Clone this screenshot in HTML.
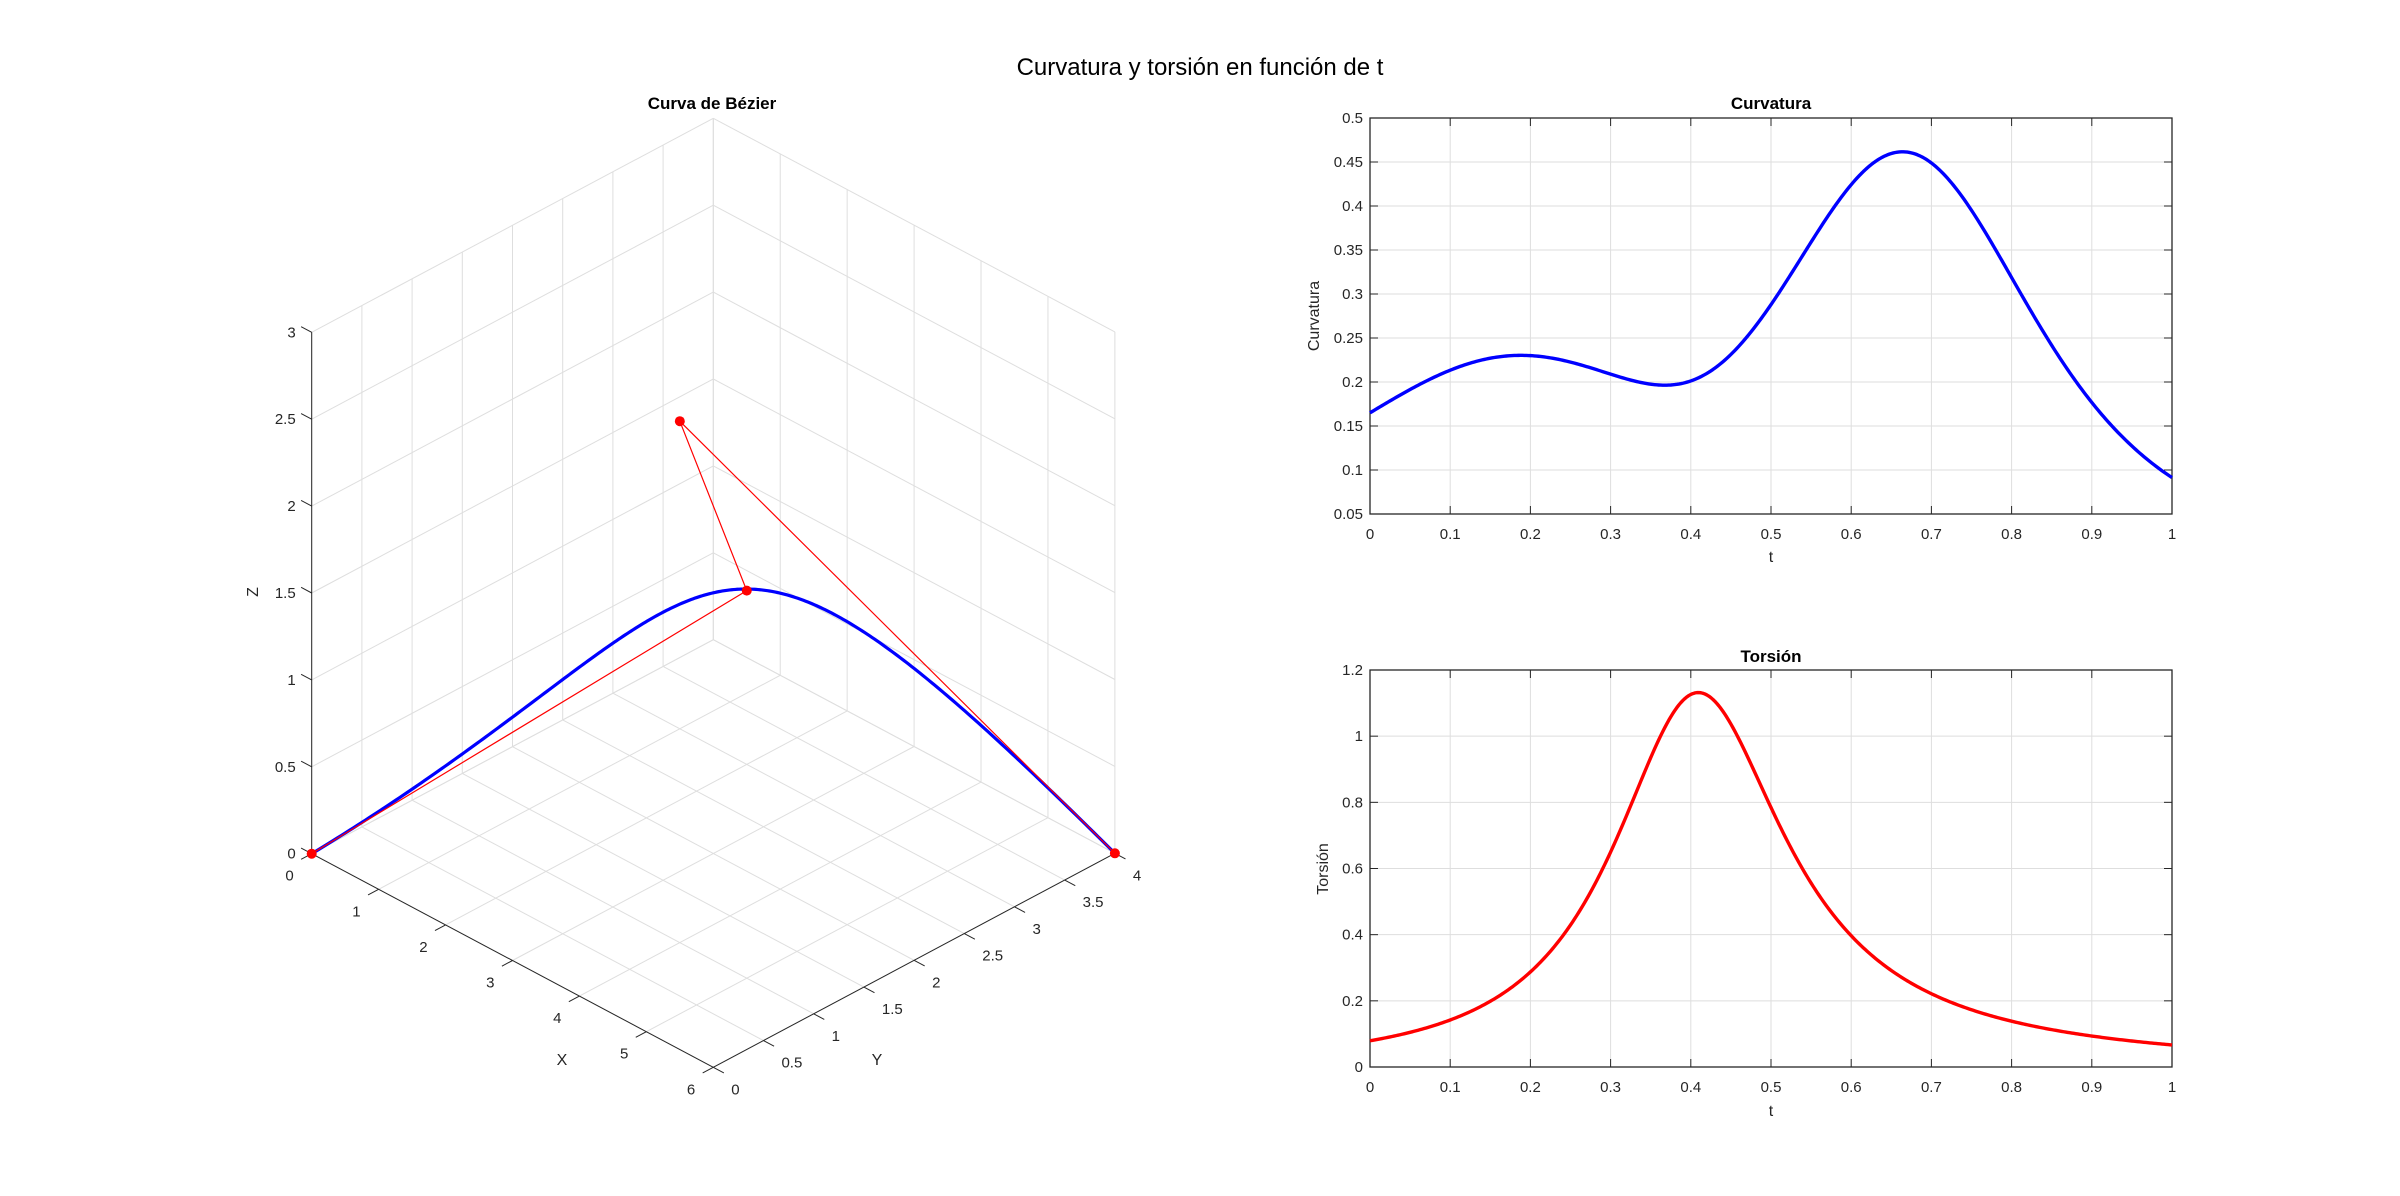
<!DOCTYPE html>
<html><head><meta charset="utf-8">
<style>
html,body{margin:0;padding:0;background:#fff;}
svg{display:block;font-family:"Liberation Sans",Arial,sans-serif;}
</style></head>
<body>
<svg id="s" width="2400" height="1196" viewBox="0 0 2400 1196" xmlns="http://www.w3.org/2000/svg">
<rect width="2400" height="1196" fill="#fff"/>
<text x="1200" y="75" font-size="24" text-anchor="middle" fill="#000">Curvatura y torsión en función de t</text>
<text x="712" y="109" font-size="17" font-weight="bold" text-anchor="middle" fill="#000">Curva de Bézier</text>
<text x="1771" y="109" font-size="17" font-weight="bold" text-anchor="middle" fill="#000">Curvatura</text>
<text x="1771" y="662" font-size="17" font-weight="bold" text-anchor="middle" fill="#000">Torsión</text>
<text x="1771" y="562" font-size="16" text-anchor="middle" fill="#262626">t</text>
<text x="1771" y="1116" font-size="16" text-anchor="middle" fill="#262626">t</text>
<text transform="translate(1319,316) rotate(-90)" font-size="16" text-anchor="middle" fill="#262626">Curvatura</text>
<text transform="translate(1328,869) rotate(-90)" font-size="16" text-anchor="middle" fill="#262626">Torsión</text>
<text x="562" y="1065" font-size="16" text-anchor="middle" fill="#262626">X</text>
<text x="877" y="1065" font-size="16" text-anchor="middle" fill="#262626">Y</text>
<text transform="translate(258,592) rotate(-90)" font-size="16" text-anchor="middle" fill="#262626">Z</text>
<g id="g"></g>
</svg>
<script>
(function(){
var NS="http://www.w3.org/2000/svg",g=document.getElementById('g');
function el(t,a,txt){var e=document.createElementNS(NS,t);for(var k in a)e.setAttribute(k,a[k]);if(txt!=null)e.textContent=txt;g.appendChild(e);return e;}
function line(x1,y1,x2,y2,c,w){el('line',{x1:x1,y1:y1,x2:x2,y2:y2,stroke:c,'stroke-width':w||1});}
var P=[[0,0,0],[2,3,1],[4,1,3],[6,4,0]];
function B(t){var u=1-t,r=[];for(var i=0;i<3;i++)r[i]=u*u*u*P[0][i]+3*u*u*t*P[1][i]+3*u*t*t*P[2][i]+t*t*t*P[3][i];return r;}
function d1(t){var u=1-t,r=[];for(var i=0;i<3;i++)r[i]=3*u*u*(P[1][i]-P[0][i])+6*u*t*(P[2][i]-P[1][i])+3*t*t*(P[3][i]-P[2][i]);return r;}
function d2(t){var u=1-t,r=[];for(var i=0;i<3;i++)r[i]=6*u*(P[2][i]-2*P[1][i]+P[0][i])+6*t*(P[3][i]-2*P[2][i]+P[1][i]);return r;}
function d3(){var r=[];for(var i=0;i<3;i++)r[i]=6*(P[3][i]-3*P[2][i]+3*P[1][i]-P[0][i]);return r;}
function cr(a,b){return[a[1]*b[2]-a[2]*b[1],a[2]*b[0]-a[0]*b[2],a[0]*b[1]-a[1]*b[0]];}
function dot(a,b){return a[0]*b[0]+a[1]*b[1]+a[2]*b[2];}
// 3D projection
var L=[311.7,853.7],VX=[66.93,35.6],VY=[100.4,-53.5],VZ=173.8;
function pj(x,y,z){return[L[0]+x*VX[0]+y*VY[0],L[1]+x*VX[1]+y*VY[1]-z*VZ];}
var gc="#dedede";
function l3(a,b,c,w){var p=pj(a[0],a[1],a[2]),q=pj(b[0],b[1],b[2]);line(p[0],p[1],q[0],q[1],c,w);}
var x,y,z;
for(x=0;x<=6;x++){l3([x,0,0],[x,4,0],gc);l3([x,4,0],[x,4,3],gc);}
for(y=0;y<=4.001;y+=0.5){l3([0,y,0],[6,y,0],gc);l3([0,y,0],[0,y,3],gc);}
for(z=0;z<=3.001;z+=0.5){l3([0,0,z],[0,4,z],gc);l3([0,4,z],[6,4,z],gc);}
var ac="#262626";
l3([0,0,0],[0,0,3],ac);l3([0,0,0],[6,0,0],ac);l3([6,0,0],[6,4,0],ac);
var TL=12;
function nv(v){var n=Math.hypot(v[0],v[1]);return[v[0]/n,v[1]/n];}
var nX=nv(VX),nY=nv(VY);
for(z=0;z<=3.001;z+=0.5){var p=pj(0,0,z);line(p[0],p[1],p[0]-nX[0]*TL,p[1]-nX[1]*TL,ac);
 el('text',{x:p[0]-16,y:p[1]+5,'font-size':15,'text-anchor':'end',fill:ac},String(z));}
for(x=0;x<=6;x++){var p=pj(x,0,0);line(p[0],p[1],p[0]-nY[0]*TL,p[1]-nY[1]*TL,ac);
 el('text',{x:p[0]-18,y:p[1]+27,'font-size':15,'text-anchor':'end',fill:ac},String(x));}
for(y=0;y<=4.001;y+=0.5){var p=pj(6,y,0);line(p[0],p[1],p[0]+nX[0]*TL,p[1]+nX[1]*TL,ac);
 el('text',{x:p[0]+18,y:p[1]+27,'font-size':15,'text-anchor':'start',fill:ac},String(y));}
// curve
var d="",i,t,N=300;
for(i=0;i<=N;i++){t=i/N;var b=B(t),p=pj(b[0],b[1],b[2]);d+=(i?"L":"M")+p[0].toFixed(2)+","+p[1].toFixed(2);}
el('path',{d:d,fill:'none',stroke:'#0000ff','stroke-width':3.2,'stroke-linejoin':'round'});
var cp="";for(i=0;i<4;i++){var p=pj(P[i][0],P[i][1],P[i][2]);cp+=(i?"L":"M")+p[0]+","+p[1];}
el('path',{d:cp,fill:'none',stroke:'#ff0000','stroke-width':1.2});
for(i=0;i<4;i++){var p=pj(P[i][0],P[i][1],P[i][2]);el('circle',{cx:p[0],cy:p[1],r:5,fill:'#ff0000'});}
// 2D plots
function plot2(top,bot,ymin,ymax,ystep,dec,f,col){
 var lft=1370,rgt=2172;
 function sx(t){return lft+(rgt-lft)*t;}function sy(v){return bot-(bot-top)*(v-ymin)/(ymax-ymin);}
 var k,v;
 for(k=0;k<=10;k++){var X=sx(k/10);if(k>0&&k<10)line(X,top,X,bot,gc);
   line(X,bot,X,bot-8,ac);line(X,top,X,top+8,ac);
   el('text',{x:X,y:bot+25,'font-size':15,'text-anchor':'middle',fill:ac},k==0?"0":k==10?"1":(k/10).toString());}
 var n=Math.round((ymax-ymin)/ystep);
 for(k=0;k<=n;k++){v=ymin+k*ystep;var Y=sy(v);if(k>0&&k<n)line(lft,Y,rgt,Y,gc);
   line(lft,Y,lft+8,Y,ac);line(rgt,Y,rgt-8,Y,ac);
   var s=parseFloat(v.toFixed(dec)).toString();
   el('text',{x:lft-7,y:Y+5,'font-size':15,'text-anchor':'end',fill:ac},s);}
 el('rect',{x:lft,y:top,width:rgt-lft,height:bot-top,fill:'none',stroke:ac,'stroke-width':1.3});
 var dd="";for(i=0;i<=400;i++){t=i/400;dd+=(i?"L":"M")+sx(t).toFixed(2)+","+sy(f(t)).toFixed(2);}
 el('path',{d:dd,fill:'none',stroke:col,'stroke-width':3.4,'stroke-linejoin':'round'});
}
function kap(t){var a=d1(t),b=d2(t),c=cr(a,b);var n=Math.hypot(a[0],a[1],a[2]);return Math.hypot(c[0],c[1],c[2])/(n*n*n);}
function tau(t){var a=d1(t),b=d2(t),c=cr(a,b);return dot(c,d3())/dot(c,c);}
plot2(118,514,0.05,0.5,0.05,2,kap,'#0000ff');
plot2(670,1067,0,1.2,0.2,1,tau,'#ff0000');
})();
</script>
</body></html>
